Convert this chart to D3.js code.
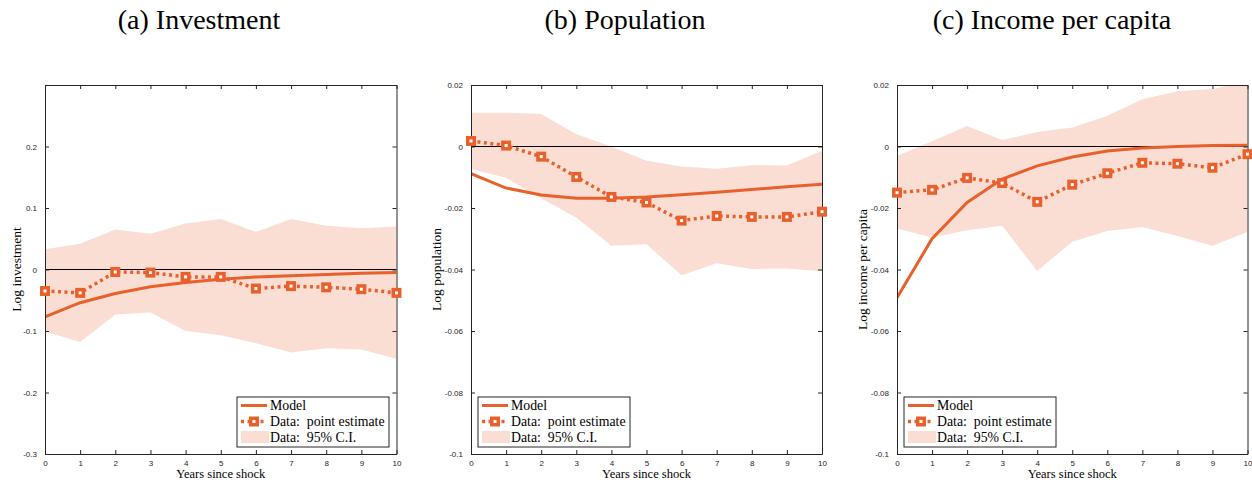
<!DOCTYPE html>
<html>
<head>
<meta charset="utf-8">
<script src="https://cdn.jsdelivr.net/npm/d3@7"></script>
<style>
  body { margin: 0; background: #fff; }
  svg { display: block; }
</style>
</head>
<body>
<svg id="chart" width="1252" height="480"></svg>
<script>
'use strict';

const years = [0, 1, 2, 3, 4, 5, 6, 7, 8, 9, 10];

const investModel = [-0.077, -0.054, -0.039, -0.028, -0.021, -0.016, -0.012, -0.010, -0.008, -0.006, -0.005];
const investData = [-0.035, -0.038, -0.004, -0.005, -0.012, -0.012, -0.031, -0.027, -0.029, -0.032, -0.038];
const investUpper = [0.033, 0.042, 0.065, 0.058, 0.075, 0.082, 0.061, 0.082, 0.071, 0.067, 0.070];
const investLower = [-0.101, -0.118, -0.073, -0.070, -0.100, -0.107, -0.120, -0.135, -0.128, -0.130, -0.145];

const popModel = [-0.0088, -0.0135, -0.0158, -0.0168, -0.0168, -0.0164, -0.0157, -0.0149, -0.0140, -0.0131, -0.0123];
const popData = [0.0018, 0.0003, -0.0033, -0.0099, -0.0164, -0.0182, -0.0241, -0.0226, -0.0229, -0.0229, -0.0212];
const popUpper = [0.011, 0.011, 0.0106, 0.004, 0.0, -0.0046, -0.0065, -0.0072, -0.0061, -0.0062, -0.0014];
const popLower = [-0.0073, -0.0102, -0.0169, -0.0231, -0.0323, -0.0318, -0.0419, -0.0380, -0.0398, -0.0397, -0.0406];

const incomeModel = [-0.0492, -0.0300, -0.0182, -0.0106, -0.0063, -0.0034, -0.0015, -0.0005, 0.0, 0.0003, 0.0004];
const incomeData = [-0.0150, -0.0141, -0.0102, -0.0119, -0.0180, -0.0124, -0.0087, -0.0053, -0.0056, -0.0069, -0.0025];
const incomeUpper = [-0.0031, 0.0017, 0.0067, 0.0021, 0.0047, 0.0062, 0.0100, 0.0154, 0.0180, 0.0187, 0.0210];
const incomeLower = [-0.0267, -0.0296, -0.0272, -0.0258, -0.0405, -0.0310, -0.0275, -0.0262, -0.0291, -0.0323, -0.0278];

const investTicks = [-0.3, -0.2, -0.1, 0, 0.1, 0.2];
const smallTicks = [-0.1, -0.08, -0.06, -0.04, -0.02, 0, 0.02];

const titles = ['(a) Investment', '(b) Population', '(c) Income per capita'];
const yLabels = ['Log investment', 'Log population', 'Log income per capita'];
const legendLabels = ['Model', 'Data:  point estimate', 'Data:  95% C.I.'];

const orange = '#E8602C';
const ciFill = '#FADED3';
const axisColor = '#262626';
const serifFont = 'Liberation Serif';
const sansFont = 'Liberation Sans';

const panels = [
  { left: 45, right: 396.5, domain: [-0.3, 0.3], ticks: investTicks, model: investModel, data: investData, upper: investUpper, lower: investLower, labelX: 16, legendX: 237, titleX: 199 },
  { left: 471, right: 822, domain: [-0.1, 0.02], ticks: smallTicks, model: popModel, data: popData, upper: popUpper, lower: popLower, labelX: 436, legendX: 478, titleX: 625 },
  { left: 897, right: 1247.5, domain: [-0.1, 0.02], ticks: smallTicks, model: incomeModel, data: incomeData, upper: incomeUpper, lower: incomeLower, labelX: 862, legendX: 904, titleX: 1052 }
];

const plotTop = 85;
const plotBottom = 454;
const svg = d3.select('#chart');

const formatTick = v => (v === 0 ? '0' : String(+v.toFixed(2)));

panels.forEach((p, i) => {
  const x = d3.scaleLinear().domain([0, 10]).range([p.left, p.right]);
  const y = d3.scaleLinear().domain(p.domain).range([plotBottom, plotTop]);
  const g = svg.append('g');

  const clipId = `clip${i}`;
  svg.append('clipPath').attr('id', clipId)
    .append('rect')
    .attr('x', p.left).attr('y', plotTop)
    .attr('width', p.right - p.left).attr('height', plotBottom - plotTop);

  const plot = g.append('g').attr('clip-path', `url(#${clipId})`);

  // confidence band
  plot.append('path')
    .datum(years)
    .attr('fill', ciFill)
    .attr('d', d3.area()
      .x(d => x(d))
      .y0(d => y(p.lower[d]))
      .y1(d => y(p.upper[d])));

  // zero line
  plot.append('line')
    .attr('x1', x(0)).attr('x2', x(10))
    .attr('y1', y(0)).attr('y2', y(0))
    .attr('stroke', '#000').attr('stroke-width', 1);

  // model line
  plot.append('path')
    .datum(years)
    .attr('fill', 'none')
    .attr('stroke', orange)
    .attr('stroke-width', 3)
    .attr('d', d3.line().x(d => x(d)).y(d => y(p.model[d])));

  // axes box
  const xAxis = d3.axisBottom(x).tickValues(years).tickSize(-4).tickSizeOuter(0).tickPadding(6).tickFormat(d3.format('d'));
  const xAxisTop = d3.axisTop(x).tickValues(years).tickSize(-4).tickSizeOuter(0).tickFormat('');
  const yAxis = d3.axisLeft(y).tickValues(p.ticks).tickSize(-4).tickSizeOuter(0).tickPadding(8).tickFormat(formatTick);
  const yAxisRight = d3.axisRight(y).tickValues(p.ticks).tickSize(-4).tickSizeOuter(0).tickFormat('');

  const styleAxis = sel => {
    sel.attr('font-family', sansFont).attr('font-size', 8);
    sel.selectAll('.domain').attr('stroke', axisColor);
    sel.selectAll('.tick line').attr('stroke', axisColor);
    sel.selectAll('.tick text').attr('fill', axisColor);
  };

  g.append('g').attr('transform', `translate(0,${plotBottom})`).call(xAxis).call(styleAxis);
  g.append('g').attr('transform', `translate(0,${plotTop})`).call(xAxisTop).call(styleAxis);
  g.append('g').attr('transform', `translate(${p.left},0)`).call(yAxis).call(styleAxis);
  g.append('g').attr('transform', `translate(${p.right},0)`).call(yAxisRight).call(styleAxis);

  // data dotted line with square markers, drawn over the frame
  const dataLayer = g.append('g');
  dataLayer.append('path')
    .datum(years)
    .attr('fill', 'none')
    .attr('stroke', orange)
    .attr('stroke-width', 3.5)
    .attr('stroke-dasharray', '3,3.5')
    .attr('d', d3.line().x(d => x(d)).y(d => y(p.data[d])));

  dataLayer.selectAll('rect.marker')
    .data(years)
    .join('rect')
    .attr('class', 'marker')
    .attr('x', d => x(d) - 3.25)
    .attr('y', d => y(p.data[d]) - 3.25)
    .attr('width', 6.5).attr('height', 6.5)
    .attr('fill', '#fff')
    .attr('stroke', orange)
    .attr('stroke-width', 3.5);

  // titles and labels
  svg.append('text')
    .attr('x', p.titleX).attr('y', 29)
    .attr('text-anchor', 'middle')
    .attr('font-family', serifFont).attr('font-size', 28)
    .text(titles[i]);

  svg.append('text')
    .attr('transform', `translate(${p.labelX},${(plotTop + plotBottom) / 2}) rotate(-90)`)
    .attr('text-anchor', 'middle')
    .attr('dy', '0.35em')
    .attr('font-family', serifFont).attr('font-size', 13.5)
    .text(yLabels[i]);

  svg.append('text')
    .attr('x', (p.left + p.right) / 2).attr('y', 478)
    .attr('text-anchor', 'middle')
    .attr('font-family', serifFont).attr('font-size', 12.5)
    .text('Years since shock');

  // legend
  const lg = svg.append('g').attr('transform', `translate(${p.legendX},397)`);
  lg.append('rect')
    .attr('width', 152).attr('height', 50)
    .attr('fill', '#fff').attr('stroke', axisColor).attr('stroke-width', 1);

  const rowY = [8.5, 24.5, 40];
  lg.append('line')
    .attr('x1', 4).attr('x2', 30).attr('y1', rowY[0]).attr('y2', rowY[0])
    .attr('stroke', orange).attr('stroke-width', 3);
  lg.append('line')
    .attr('x1', 4).attr('x2', 30).attr('y1', rowY[1]).attr('y2', rowY[1])
    .attr('stroke', orange).attr('stroke-width', 3.5).attr('stroke-dasharray', '3,3.5');
  lg.append('rect')
    .attr('x', 13.75).attr('y', rowY[1] - 3.25).attr('width', 6.5).attr('height', 6.5)
    .attr('fill', '#fff').attr('stroke', orange).attr('stroke-width', 3.5);
  lg.append('rect')
    .attr('x', 4).attr('y', rowY[2] - 6).attr('width', 28).attr('height', 12)
    .attr('fill', ciFill);

  lg.selectAll('text.leg')
    .data(legendLabels)
    .join('text')
    .attr('class', 'leg')
    .attr('x', 33)
    .attr('y', (d, k) => rowY[k])
    .attr('dy', '0.35em')
    .attr('font-family', serifFont).attr('font-size', 13.8)
    .style('white-space', 'pre')
    .text(d => d);
});
</script>
</body>
</html>
